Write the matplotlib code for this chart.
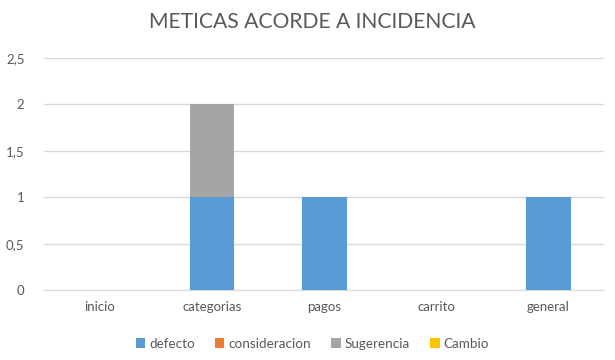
import matplotlib.pyplot as plt
import numpy as np
from matplotlib.ticker import FuncFormatter

categorias = ['inicio', 'categorias', 'pagos', 'carrito', 'general']
defecto = [0, 1, 1, 0, 1]
consideracion = [0, 0, 0, 0, 0]
sugerencia = [0, 1, 0, 0, 0]
cambio = [0, 0, 0, 0, 0]

series = [('defecto', defecto, '#5B9BD5'),
          ('consideracion', consideracion, '#ED7D31'),
          ('Sugerencia', sugerencia, '#A5A5A5'),
          ('Cambio', cambio, '#FFC000')]

plt.rcParams['font.family'] = ['Lato', 'DejaVu Sans']
gris = '#595959'

fig = plt.figure(figsize=(6.15, 3.6), dpi=100)
ax = fig.add_axes([0.0715, 0.194, 0.911, 0.645])

x = np.arange(len(categorias))
base = np.zeros(len(categorias))
for nombre, valores, color in series:
    ax.bar(x, valores, width=0.4, bottom=base, color=color, label=nombre, zorder=3)
    base += np.array(valores)

ax.set_xlim(-0.5, len(categorias) - 0.5)
ax.set_ylim(0, 2.5)
ax.set_yticks([0, 0.5, 1, 1.5, 2, 2.5])
ax.yaxis.set_major_formatter(FuncFormatter(lambda v, p: f'{v:g}'.replace('.', ',')))
ax.set_xticks(x)
ax.set_xticklabels(categorias)
ax.tick_params(axis='both', length=0, labelsize=9.5, colors=gris)
ax.tick_params(axis='x', pad=8)
ax.tick_params(axis='y', pad=14)
ax.grid(axis='y', color='#D9D9D9', linewidth=1, zorder=0)
for lado in ['top', 'right', 'left']:
    ax.spines[lado].set_visible(False)
ax.spines['bottom'].set_color('#D9D9D9')

fig.text(0.508, 0.938, 'METICAS ACORDE A INCIDENCIA', ha='center', va='center',
         fontsize=15.2, color=gris)

fig.legend(loc='center', bbox_to_anchor=(0.508, 0.045), ncol=4, frameon=False,
           fontsize=9.7, labelcolor=gris, handlelength=0.7, handleheight=0.7,
           handletextpad=0.3, columnspacing=1.5)

plt.savefig('out.png', dpi=100)
